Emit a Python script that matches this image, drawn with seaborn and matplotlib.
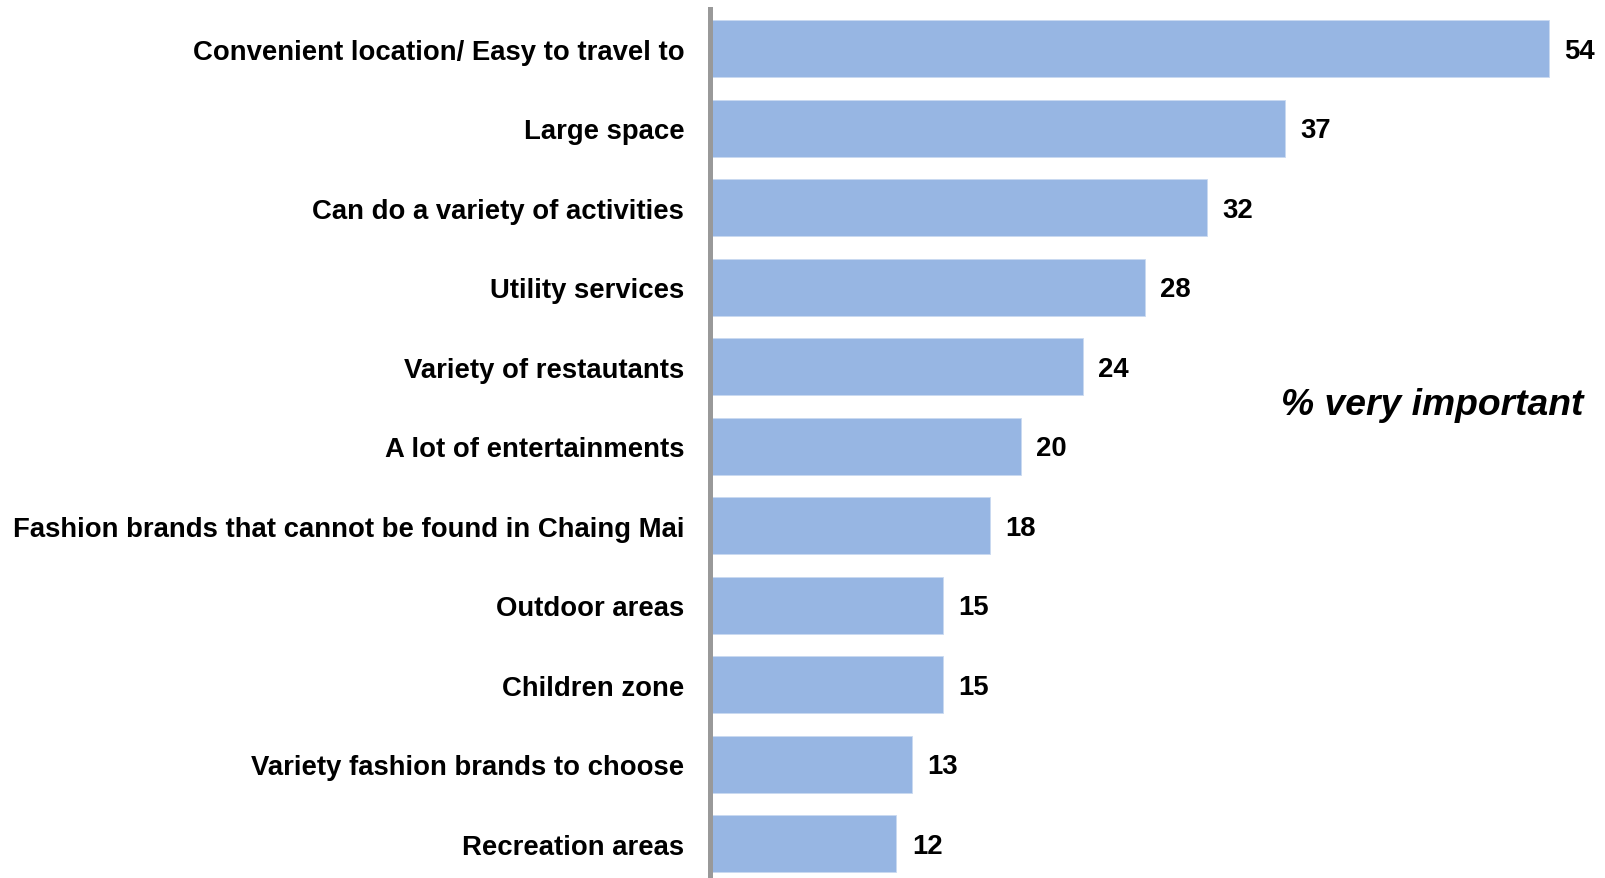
import matplotlib
matplotlib.use("Agg")
import matplotlib.pyplot as plt
import seaborn as sns
import pandas as pd

categories = [
    "Convenient location/ Easy to travel to",
    "Large space",
    "Can do a variety of activities",
    "Utility services",
    "Variety of restautants",
    "A lot of entertainments",
    "Fashion brands that cannot be found in Chaing Mai",
    "Outdoor areas",
    "Children zone",
    "Variety fashion brands to choose",
    "Recreation areas",
]
values = [54, 37, 32, 28, 24, 20, 18, 15, 15, 13, 12]
value_labels = [str(v) for v in values]
note = "% very important"

sns.set_theme(style="white")
plt.rcParams["font.family"] = ["Liberation Sans", "DejaVu Sans"]

df = pd.DataFrame({"factor": categories, "pct": values})

fig = plt.figure(figsize=(16.06, 8.79), dpi=100)
ax = fig.add_axes([710 / 1606, 0.0, 1 - 710 / 1606, (879 - 10) / 879])

sns.barplot(data=df, x="pct", y="factor", orient="h", color="#97B6E3",
            saturation=1, width=0.72, ax=ax, edgecolor="#c9d9f1", linewidth=0.6)

ax.set_xlim(0, 57.66)
ax.set_ylim(10.43, -0.5)
ax.set_xlabel("")
ax.set_ylabel("")
ax.set_xticks([])
for s in ["top", "right", "bottom"]:
    ax.spines[s].set_visible(False)
ax.spines["left"].set_color("#999999")
ax.spines["left"].set_linewidth(3.6)
ax.spines["left"].set_zorder(5)

ax.tick_params(axis="y", length=0, pad=18.5)
for lbl in ax.get_yticklabels():
    lbl.set_fontsize(19.8)
    lbl.set_fontweight("bold")
    lbl.set_color("black")

for i, (v, t) in enumerate(zip(values, value_labels)):
    ax.annotate(t, xy=(v, i), xytext=(11, -1.5), textcoords="offset points",
                ha="left", va="center", fontsize=19.8, fontweight="bold",
                color="black")

fig.text(1583 / 1606, 1 - 406 / 879, note, ha="right", va="center",
         fontsize=26.8, fontweight="bold", fontstyle="italic", color="black")

fig.savefig("out.png", dpi=100)
